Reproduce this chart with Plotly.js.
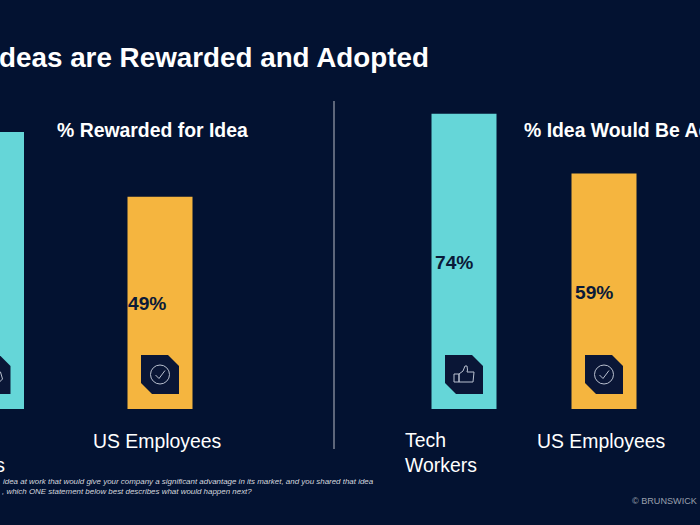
<!DOCTYPE html>
<html>
<head>
<meta charset="utf-8">
<script src="https://cdn.plot.ly/plotly-3.0.1.min.js"></script>
<style>html,body{margin:0;padding:0;background:#031231;overflow:hidden}</style>
</head>
<body>
<div id="chart" style="width:700px;height:525px"></div>
<script>
const groups = ["Tech<br>Workers", "US Employees"];
const rewarded = [64, 49];
const adopted = [74, 59];
const colors = ["#65d6d8", "#f5b53f"];
const titleText = "Ideas are Rewarded and Adopted";
const leftTitle = "% Rewarded for Idea";
const rightTitle = "% Idea Would Be Adopted";
const note1 = "idea at work that would give your company a significant advantage in its market, and you shared that idea";
const note2 = ", which ONE statement below best describes what would happen next?";
const credit = "© BRUNSWICK";

const W = 700, H = 525, BASE = 409;
const BG = "#031231", FONT = "Liberation Sans, Arial, sans-serif";
const panels = [
  {x: "x", y: "y", vals: rewarded, dom: [0, 350], center: -8.5, step: 168.5, pxPer: 4.33, labelOff: -34},
  {x: "x2", y: "y2", vals: adopted, dom: [350, 700], center: 464, step: 140, pxPer: 3.99, labelOff: -31}
];
const BAR_PX = 65;
const xIdx = [0, 1];

const traces = [], shapes = [], annotations = [];
const layout = {
  width: W, height: H, margin: {l: 0, r: 0, t: 0, b: 0},
  paper_bgcolor: BG, plot_bgcolor: "rgba(0,0,0,0)",
  showlegend: false, font: {family: FONT, color: "#fff"},
  title: {text: "<b>" + titleText + "</b>", x: 429 / W, xref: "paper", xanchor: "right",
          y: 1 - 57.5 / H, yref: "paper", yanchor: "middle", font: {size: 27.8, color: "#fff", family: FONT}}
};
const px = v => v / W, py = v => 1 - v / H;

function note(text, x, y, o) {
  annotations.push(Object.assign({text, xref: "paper", yref: "paper", x: px(x), y: py(y),
    xanchor: "left", yanchor: "middle", showarrow: false, align: "left",
    font: {size: 19.4, color: "#fff", family: FONT}}, o || {}));
}

panels.forEach((p, n) => {
  const r0 = (p.dom[0] - p.center) / p.step;
  const r1 = r0 + (p.dom[1] - p.dom[0]) / p.step;
  const suffix = n ? "2" : "";
  const catX = i => p.center + i * p.step;
  layout["xaxis" + suffix] = {domain: [p.dom[0] / W, p.dom[1] / W], range: [r0, r1], type: "linear",
    visible: false, fixedrange: true, anchor: "y" + suffix};
  layout["yaxis" + suffix] = {domain: [(H - BASE) / H, 1], range: [0, BASE / p.pxPer],
    visible: false, fixedrange: true, anchor: "x" + suffix};
  traces.push({type: "bar", x: xIdx, y: p.vals, xaxis: p.x, yaxis: p.y, width: BAR_PX / p.step,
    marker: {color: colors, line: {width: 0}}, hoverinfo: "skip"});
  p.vals.forEach((v, i) => {
    const c = catX(i);
    annotations.push({text: "<b>" + v + "%</b>", xref: "paper", yref: p.y, x: px(c + p.labelOff), y: v / 2,
      xanchor: "left", yanchor: "middle", showarrow: false, yshift: -1,
      font: {size: 19.2, color: "#0a1a38", family: FONT}});
    if (i === 0) note(groups[i], c - 61, 452);
    else note(groups[i], c - 69, 440.5);
    const l = c - 19, r = c + 19, t = 355, b = 394, k = 11;
    shapes.push({type: "path", xref: "paper", yref: "paper", fillcolor: "#0a1636", line: {width: 0},
      path: `M${px(l)} ${py(t)}L${px(r - k)} ${py(t)}L${px(r)} ${py(t + k)}L${px(r)} ${py(b)}L${px(l + k)} ${py(b)}L${px(l)} ${py(b - k)}Z`});
    const stroke = {color: "#b9c0cf", width: 1};
    if (i === 1) {
      const cy = 374.5, rad = 9.5;
      shapes.push({type: "circle", xref: "paper", yref: "paper", x0: px(c - rad), x1: px(c + rad),
        y0: py(cy - rad), y1: py(cy + rad), line: stroke});
      const pts = [[-4.5, 0.5], [-1, 4], [5, -4]];
      shapes.push({type: "path", xref: "paper", yref: "paper", line: stroke,
        path: pts.map((q, j) => (j ? "L" : "M") + px(c + q[0]) + " " + py(cy + q[1])).join("")});
    } else if (n === 1) {
      const cy = 375;
      const hand = [[-5, -1], [-1, -4], [1, -9], [3, -9], [3.5, -5], [3, -3], [10, -3], [9, 7], [-5, 7], [-5, -1]];
      const cuff = [[-10, -1], [-5, -1], [-5, 7], [-10, 7], [-10, -1]];
      [hand, cuff].forEach(a => shapes.push({type: "path", xref: "paper", yref: "paper", line: stroke,
        path: a.map((q, j) => (j ? "L" : "M") + px(c + q[0]) + " " + py(cy + q[1])).join("")}));
    } else {
      const cy = 378;
      const gem = [[-6, -4], [9, -6], [11, 1], [4, 8], [-4, 4], [-6, -4]];
      shapes.push({type: "path", xref: "paper", yref: "paper", line: stroke,
        path: gem.map((q, j) => (j ? "L" : "M") + px(c + q[0]) + " " + py(cy + q[1])).join("")});
    }
  });
});

shapes.push({type: "line", xref: "paper", yref: "paper", x0: px(334), x1: px(334), y0: py(101), y1: py(449),
  line: {color: "#9a9fae", width: 1.2}});

note("<b>" + leftTitle + "</b>", 55, 130, {font: {size: 19.4, color: "#fff", family: FONT}});
note("<b>" + rightTitle + "</b>", 522, 130, {font: {size: 19.4, color: "#fff", family: FONT}});
note("<i>" + note1 + "</i>", 1, 481, {font: {size: 7.95, color: "#d5d8df", family: FONT}});
note("<i>" + note2 + "</i>", 0, 491, {font: {size: 7.95, color: "#d5d8df", family: FONT}});
annotations.push({text: credit, xref: "paper", yref: "paper", x: px(699), y: py(501), xanchor: "right",
  yanchor: "middle", showarrow: false, font: {size: 9.1, color: "#9aa0ad", family: FONT}});

layout.shapes = shapes;
layout.annotations = annotations;
Plotly.newPlot("chart", traces, layout, {displayModeBar: false, staticPlot: true});
</script>
</body>
</html>
